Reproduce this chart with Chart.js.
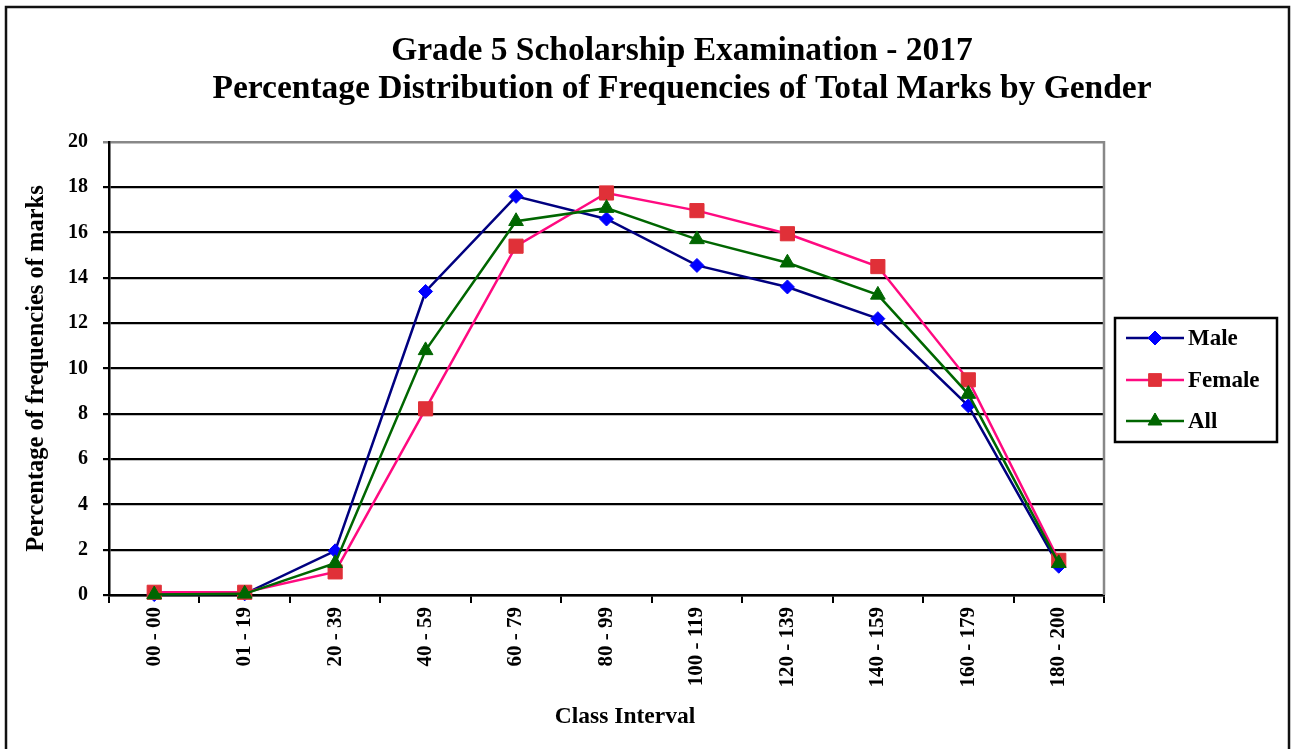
<!DOCTYPE html>
<html>
<head>
<meta charset="utf-8">
<script src="https://cdn.jsdelivr.net/npm/chart.js"></script>
<style>
  html, body { margin: 0; padding: 0; background: #ffffff; }
  #wrap { width: 1291px; height: 749px; }
</style>
</head>
<body>
<div id="wrap"><canvas id="chart" width="1291" height="749"></canvas></div>
<script>
// Class intervals of total marks
const classIntervals = ['00 - 00', '01 - 19', '20 - 39', '40 - 59', '60 - 79', '80 - 99',
  '100 - 119', '120 - 139', '140 - 159', '160 - 179', '180 - 200'];

// Percentage of candidates in each interval
const maleValues   = [0.02, 0.05, 1.95, 13.4, 17.6, 16.6, 14.55, 13.6, 12.2, 8.35, 1.27];
const femaleValues = [0.12, 0.12, 1.02, 8.22, 15.4, 17.75, 16.97, 15.95, 14.5, 9.5, 1.53];
const allValues    = [0.02, 0.05, 1.4, 10.8, 16.5, 17.08, 15.7, 14.67, 13.25, 8.87, 1.4];

const yTickValues = [0, 2, 4, 6, 8, 10, 12, 14, 16, 18, 20];

const titleLines = ['Grade 5 Scholarship Examination - 2017',
  'Percentage Distribution of Frequencies of Total Marks by Gender'];
const yAxisTitle = 'Percentage of frequencies of marks';
const xAxisTitle = 'Class Interval';

const SERIF = '"Liberation Serif", "Times New Roman", serif';

const datasets = [
  { label: 'Male', data: maleValues, borderColor: '#000080', pointBackgroundColor: '#0000FF',
    pointBorderColor: '#0000FF', pointStyle: 'rectRot', pointRadius: 7, order: 2 },
  { label: 'Female', data: femaleValues, borderColor: '#FF0A80', pointBackgroundColor: '#E03038',
    pointBorderColor: '#E03038', pointStyle: 'rect', pointRadius: 10, order: 1 },
  { label: 'All', data: allValues, borderColor: '#006600', pointBackgroundColor: '#006600',
    pointBorderColor: '#006600', pointStyle: 'triangle', pointRadius: 8.5, order: 0 }
].map(d => Object.assign({
  borderWidth: 2.5, tension: 0, fill: false, clip: false,
  pointBorderWidth: 1, pointHoverRadius: 0
}, d));

function drawMarker(ctx, style, r, x, y, color) {
  ctx.save();
  ctx.fillStyle = color;
  ctx.strokeStyle = color;
  ctx.lineWidth = 1;
  if (Chart.helpers && Chart.helpers.drawPoint) {
    Chart.helpers.drawPoint(ctx, { pointStyle: style, radius: r, rotation: 0, borderWidth: 1 }, x, y);
  }
  ctx.restore();
}

// Frame, titles and legend drawn on top of the chart
const decorations = {
  id: 'decorations',
  afterDraw(chart) {
    const ctx = chart.ctx;
    const area = chart.chartArea;
    ctx.save();

    // outer frame
    ctx.strokeStyle = '#111';
    ctx.lineWidth = 2.5;
    ctx.strokeRect(6, 7, 1283, 760);

    // grey plot frame on the right
    ctx.strokeStyle = '#888';
    ctx.lineWidth = 2.5;
    ctx.beginPath();
    ctx.moveTo(area.right, area.top - 1);
    ctx.lineTo(area.right, area.bottom);
    ctx.stroke();

    // main title
    ctx.fillStyle = '#000';
    ctx.textAlign = 'center';
    ctx.textBaseline = 'alphabetic';
    ctx.font = 'bold 33.5px ' + SERIF;
    ctx.fillText(titleLines[0], 682, 60);
    ctx.fillText(titleLines[1], 682, 98);

    // x axis title
    ctx.font = 'bold 23.5px ' + SERIF;
    ctx.textBaseline = 'middle';
    ctx.fillText(xAxisTitle, 625, 717);

    // legend
    const box = { x: 1115, y: 318, w: 162, h: 124 };
    ctx.fillStyle = '#fff';
    ctx.fillRect(box.x, box.y, box.w, box.h);
    ctx.strokeStyle = '#000';
    ctx.lineWidth = 2.5;
    ctx.strokeRect(box.x, box.y, box.w, box.h);
    const rows = [338, 380, 421];
    const legendRadius = { rectRot: 7, rect: 9, triangle: 8 };
    chart.data.datasets.forEach((ds, i) => {
      const y = rows[i];
      ctx.strokeStyle = ds.borderColor;
      ctx.lineWidth = 2.5;
      ctx.beginPath();
      ctx.moveTo(1126, y);
      ctx.lineTo(1184, y);
      ctx.stroke();
      drawMarker(ctx, ds.pointStyle, legendRadius[ds.pointStyle], 1155, y, ds.pointBackgroundColor);
      ctx.fillStyle = '#000';
      ctx.textAlign = 'left';
      ctx.textBaseline = 'middle';
      ctx.font = 'bold 23px ' + SERIF;
      ctx.fillText(ds.label, 1188, y + 1);
    });

    ctx.restore();
  }
};

new Chart(document.getElementById('chart'), {
  type: 'line',
  data: { labels: classIntervals, datasets: datasets },
  options: {
    responsive: false,
    animation: false,
    devicePixelRatio: 1,
    events: [],
    layout: { padding: { left: 0, top: 142, right: 187, bottom: 0 } },
    plugins: {
      legend: { display: false },
      title: { display: false },
      tooltip: { enabled: false }
    },
    scales: {
      x: {
        type: 'category',
        offset: true,
        afterFit(scale) { scale.height = 154; },
        grid: {
          offset: true,
          drawOnChartArea: false,
          drawTicks: true,
          tickLength: 8,
          color: '#000',
          lineWidth: 2
        },
        border: { display: true, color: '#000', width: 2.5 },
        ticks: {
          autoSkip: false,
          minRotation: 90,
          maxRotation: 90,
          padding: 4,
          color: '#000',
          font: { family: SERIF, size: 21, weight: 'bold' }
        }
      },
      y: {
        min: 0,
        max: 20,
        afterFit(scale) { scale.width = 109; },
        afterBuildTicks(scale) { scale.ticks = yTickValues.map(v => ({ value: v })); },
        grid: {
          color: ctx => (ctx.tick && ctx.tick.value === 20 ? '#888' : '#000'),
          lineWidth: ctx => (ctx.tick && ctx.tick.value === 20 ? 2.5 : 2.2),
          drawTicks: true,
          tickLength: 6
        },
        border: { display: true, color: '#000', width: 2.5 },
        ticks: {
          padding: 15,
          color: '#000',
          font: { family: SERIF, size: 20, weight: 'bold' }
        },
        title: {
          display: true,
          text: yAxisTitle,
          color: '#000',
          font: { family: SERIF, size: 24.5, weight: 'bold' },
          padding: { top: 22, bottom: 0 }
        }
      }
    }
  },
  plugins: [decorations]
});
</script>
</body>
</html>
